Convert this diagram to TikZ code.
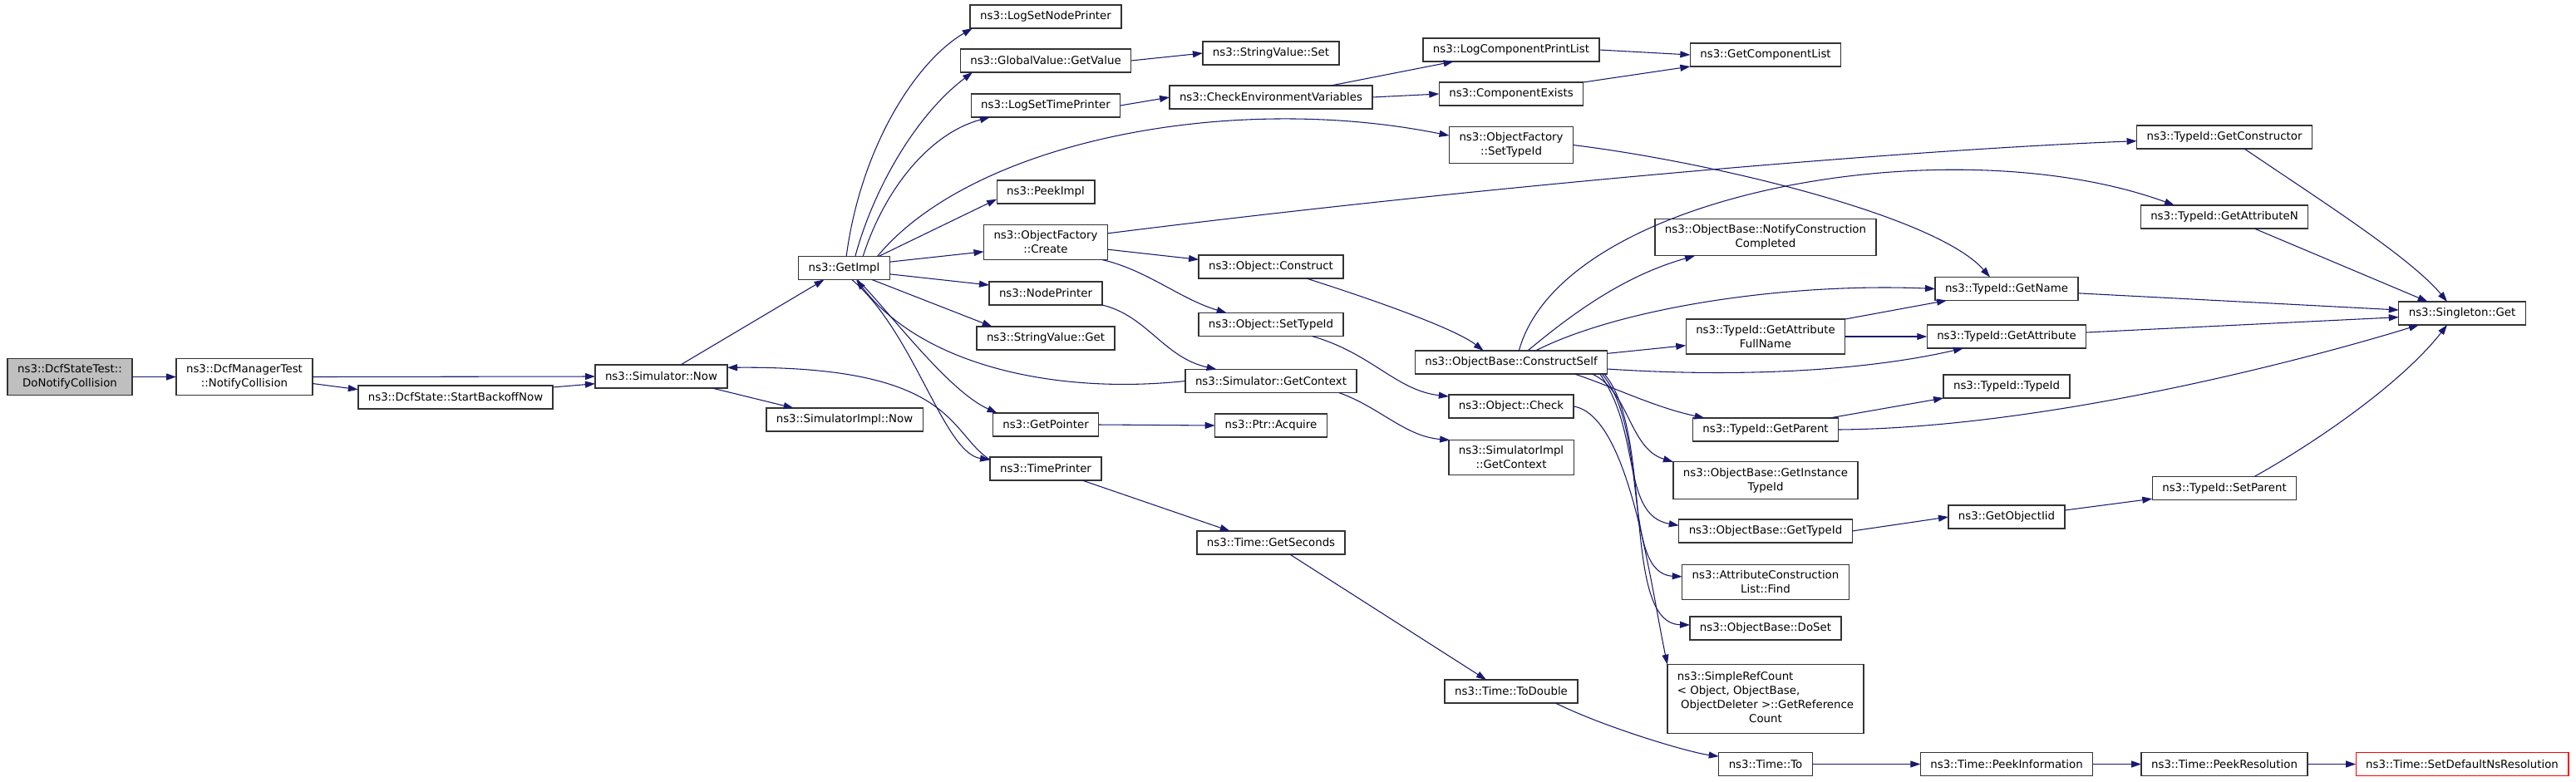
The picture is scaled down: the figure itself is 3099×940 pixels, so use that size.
\documentclass[tikz,border=0pt]{standalone}
\usepackage{fontspec}
\setmainfont{DejaVu Sans}
\usetikzlibrary{arrows.meta}
\definecolor{edgeblue}{HTML}{191970}
\definecolor{rootfill}{HTML}{BFBFBF}

\begin{document}
\begin{tikzpicture}[
x=0.75pt, y=-0.75pt,
    X/.style = {rectangle, draw=black!80, line width=1pt,% styles of nodes in call graph
                font=\fontsize{10pt}{12.75pt}\selectfont, align=center,
                minimum height=21pt, inner xsep=9pt, inner ysep=5.5pt,
                outer sep=0pt},
    Y/.style = {X, fill=rootfill},% the caller
    Z/.style = {X, draw=red},% truncated node
    C/.style = {draw=edgeblue, line width=0.8pt,
                -{Triangle[length=9pt,width=6pt]}},
                        ]
\useasboundingbox (0,0) rectangle (3099,940);
\node[Y] (root) at (84,453.5) {ns3::DcfStateTest::\\DoNotifyCollision};
\foreach \n/\x/\y/\txt in {nc/294/453.5/{ns3::DcfManagerTest\\::NotifyCollision},
    sbn/548/478/{ns3::DcfState::StartBackoffNow}, now/795.5/453/{ns3::Simulator::Now},
    gi/1015.5/322.5/{ns3::GetImpl}, sin/1016/505/{ns3::SimulatorImpl::Now},
    lsnp/1258/20/{ns3::LogSetNodePrinter}, gv/1258/73/{ns3::GlobalValue::GetValue},
    lstp/1258/127/{ns3::LogSetTimePrinter}, pi/1258/231/{ns3::PeekImpl},
    ofc/1258/291.5/{ns3::ObjectFactory\\::Create}, np/1258/353/{ns3::NodePrinter},
    svg/1258/407/{ns3::StringValue::Get}, gp/1258/511/{ns3::GetPointer},
    tp/1258/564/{ns3::TimePrinter},
    svs/1529/64/{ns3::StringValue::Set}, cev/1529/117/{ns3::CheckEnvironmentVariables},
    oc/1529/321/{ns3::Object::Construct}, ost/1529/390.5/{ns3::Object::SetTypeId},
    sgc/1529/458.5/{ns3::Simulator::GetContext}, pa/1529/512/{ns3::Ptr::Acquire},
    tgs/1529/653/{ns3::Time::GetSeconds},
    lcpl/1818/60/{ns3::LogComponentPrintList}, ce/1818/113/{ns3::ComponentExists},
    ofs/1818/174.5/{ns3::ObjectFactory\\::SetTypeId}, ocs/1818/436/{ns3::ObjectBase::ConstructSelf},
    ock/1818/489/{ns3::Object::Check}, sigc/1818/550.5/{ns3::SimulatorImpl\\::GetContext},
    ttd/1818/832/{ns3::Time::ToDouble},
    gcl/2124/66/{ns3::GetComponentList}, ncc/2124/285.5/{ns3::ObjectBase::NotifyConstruction\\Completed},
    gafn/2124/405/{ns3::TypeId::GetAttribute\\FullName}, tgp/2124/517/{ns3::TypeId::GetParent},
    git/2124/578/{ns3::ObjectBase::GetInstance\\TypeId}, gti/2124/639/{ns3::ObjectBase::GetTypeId},
    acl/2124/700.5/{ns3::AttributeConstruction\\List::Find}, ds/2124/756/{ns3::ObjectBase::DoSet},
    ttt/2124/919.5/{ns3::Time::To},
    tgn/2414/347.5/{ns3::TypeId::GetName}, tga/2414/405/{ns3::TypeId::GetAttribute},
    tti/2414/465/{ns3::TypeId::TypeId}, goi/2414/622/{ns3::GetObjectIid},
    tpi/2414/919.5/{ns3::Time::PeekInformation},
    gc/2676/165/{ns3::TypeId::GetConstructor}, gan/2676/261/{ns3::TypeId::GetAttributeN},
    tsp/2676/587.5/{ns3::TypeId::SetParent}, tpr/2676/919.5/{ns3::Time::PeekResolution},
    sg/2962/377/{ns3::Singleton::Get}}% <-- content of nodes
    \node[X] (\n) at (\x,\y) {\txt};
\node[X] (src) at (2124,841) {\begin{tabular}{@{}l@{}}ns3::SimpleRefCount\\
    < Object, ObjectBase,\\\ ObjectDeleter >::GetReference\\
    \multicolumn{1}{@{}c@{}}{Count}\end{tabular}};
\node[Z] (sdn) at (2962,919.5) {ns3::Time::SetDefaultNsResolution};
% calls from the root
\draw[C] (root) -- (nc);
\draw[C] (nc.east) -- (now.west);
\draw[C] ([yshift=-6pt]nc.east) -- ([yshift=7pt]sbn.west);
\draw[C] ([yshift=9pt]sbn.east) -- ([yshift=-6.5pt]now.west);
\draw[C] ([xshift=17.5pt]now.north) -- ([xshift=-18pt]gi.south);
\draw[C] ([xshift=46pt]now.south) -- ([xshift=-46pt]sin.north);
\draw[C] ([yshift=8pt]tp.west) .. controls (1140,520) and (1150,440) .. ([yshift=8pt]now.east);
% calls of GetImpl
\draw[C] ([xshift=2pt]gi.north) .. controls (1035,180) and (1100,75) .. ([xshift=2pt]lsnp.south west);
\draw[C] ([xshift=10pt]gi.north) .. controls (1050,230) and (1100,140) .. ([xshift=11pt]gv.south west);
\draw[C] ([xshift=17pt]gi.north) .. controls (1065,225) and (1120,160) .. ([xshift=17pt]lstp.south west);
\draw[C] ([xshift=30pt]gi.north) .. controls (1170,170) and (1480,110) .. ([yshift=8.5pt]ofs.west);
\draw[C] ([xshift=-10pt]gi.north east) -- ([yshift=-6.5pt]pi.west);
\draw[C] ([yshift=5.5pt]gi.east) -- ([yshift=-8.5pt]ofc.west);
\draw[C] ([yshift=-5.5pt]gi.east) -- ([yshift=7.5pt]np.west);
\draw[C] ([xshift=-16pt]gi.south east) -- ([xshift=14pt]svg.north west);
\draw[C] ([xshift=12pt]gi.south) .. controls (1070,375) and (1140,470) .. ([xshift=4pt]gp.north west);
\draw[C] ([xshift=7pt]gi.south) .. controls (1100,400) and (1135,545) .. ([yshift=8pt]tp.west);
\draw[C] (sgc.west) .. controls (1270,475) and (1110,440) .. ([xshift=11pt]gi.south);
% second column
\draw[C] (gv.east) -- (svs.west);
\draw[C] (lstp.east) -- (cev.west);
\draw[C] ([xshift=54pt]cev.north) -- ([xshift=-52pt]lcpl.south);
\draw[C] (cev.east) -- (ce.west);
\draw[C] (lcpl.east) -- (gcl.west);
\draw[C] (ce.north east) -- (gcl.south west);
\draw[C] (ofs.east) .. controls (2060,195) and (2330,260) .. ([xshift=-15pt]tgn.north);
\draw[C] ([yshift=8pt]ofc.east) .. controls (1800,222) and (2300,180) .. ([yshift=-3.5pt]gc.west);
\draw[C] ([yshift=-6.5pt]ofc.east) -- ([yshift=6.5pt]oc.west);
\draw[C] ([xshift=-5pt]ofc.south east) .. controls (1380,325) and (1420,360) .. ([xshift=-40pt]ost.north);
\draw[C] ([xshift=32pt]oc.south) .. controls (1650,360) and (1750,395) .. ([xshift=-25pt]ocs.north);
\draw[C] ([xshift=37pt]ost.south) .. controls (1650,425) and (1680,470) .. ([yshift=9pt]ock.west);
\draw[C] (np.south east) .. controls (1380,380) and (1400,430) .. ([xshift=-49pt]sgc.north);
\draw[C] ([xshift=-16pt]sgc.south east) .. controls (1660,490) and (1690,525) .. ([xshift=1pt]sigc.north west);
\draw[C] (gp.east) -- (pa.west);
\draw[C] ([xshift=33pt]tp.south) -- ([xshift=-37pt]tgs.north);
\draw[C] ([xshift=17pt]tgs.south) -- ([xshift=-22.5pt]ttd.north);
\draw[C] ([xshift=40pt]ttd.south) .. controls (1930,875) and (2030,905) .. ([yshift=7pt]ttt.west);
\draw[C] (ttt) -- (tpi);
\draw[C] (tpi) -- (tpr);
\draw[C] (tpr) -- (sdn);
% calls of ConstructSelf
\draw[C] ([xshift=7pt]ocs.north) .. controls (1880,230) and (2350,150) .. ([xshift=-45pt]gan.north);
\draw[C] ([xshift=15pt]ocs.north) .. controls (1900,370) and (1960,330) .. ([xshift=36pt]ncc.south west);
\draw[C] ([xshift=22pt]ocs.north) .. controls (1950,370) and (2150,340) .. (tgn.west);
\draw[C] ([yshift=8pt]ocs.east) -- ([yshift=-8pt]gafn.west);
\draw[C] ([yshift=-6pt]ocs.east) .. controls (2100,455) and (2250,445) .. ([xshift=-39pt]tga.south);
\draw[C] ([xshift=57pt]ocs.south) .. controls (1940,465) and (1990,490) .. ([xshift=-55pt]tgp.north);
\draw[C] ([xshift=73pt]ocs.south) .. controls (1960,470) and (1960,540) .. (git.north west);
\draw[C] ([xshift=80pt]ocs.south) .. controls (1975,520) and (1950,620) .. ([yshift=5pt]gti.west);
\draw[C] ([xshift=82pt]ocs.south) .. controls (1985,520) and (1950,690) .. ([yshift=5pt]acl.west);
\draw[C] ([xshift=84pt]ocs.south) .. controls (1990,520) and (1950,750) .. ([yshift=3pt]ds.west);
\draw[C] (ock.east) .. controls (1960,500) and (1985,700) .. (src.north west);
% TypeId calls
\draw[C] (gafn.north east) -- ([xshift=-54pt]tgn.south);
\draw[C] (gafn.east) -- (tga.west);
\draw[C] ([xshift=-8pt]tgp.north east) -- (tti.south west);
\draw[C] (tgp.east) .. controls (2450,515) and (2750,440) .. ([xshift=-39pt]sg.south);
\draw[C] (gti.east) -- (goi.west);
\draw[C] ([yshift=6pt]goi.east) -- ([yshift=1pt]tsp.south west);
\draw[C] ([xshift=27pt]tsp.north) .. controls (2790,530) and (2890,460) .. ([xshift=-13.5pt]sg.south);
\draw[C] ([yshift=-4pt]tgn.east) -- ([yshift=3pt]sg.west);
\draw[C] ([yshift=3.75pt]tga.east) -- ([yshift=-3.5pt]sg.west);
\draw[C] ([xshift=18pt]gc.south) .. controls (2790,240) and (2900,310) .. ([xshift=-13.5pt]sg.north);
\draw[C] ([xshift=27pt]gan.south) -- ([xshift=-31pt]sg.north);
\end{tikzpicture}
\end{document}
